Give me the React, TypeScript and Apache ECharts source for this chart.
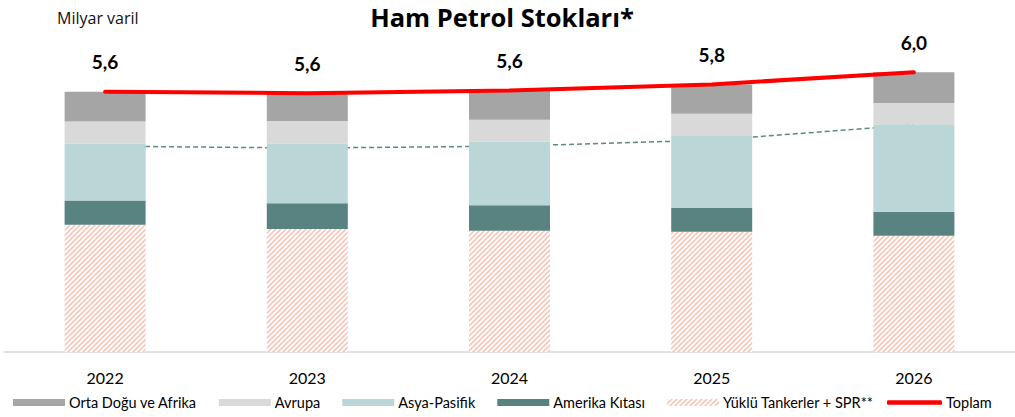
import React, { useEffect, useRef } from "react";
import * as echarts from "echarts";

const categories = ["2022", "2023", "2024", "2025", "2026"];
const tankerValues = [2.74, 2.65, 2.61, 2.59, 2.5];
const amerikaValues = [0.52, 0.55, 0.55, 0.51, 0.52];
const asyaValues = [1.23, 1.28, 1.37, 1.55, 1.88];
const avrupaValues = [0.47, 0.49, 0.47, 0.48, 0.46];
const ortaValues = [0.64, 0.6, 0.63, 0.63, 0.66];
const trendValues = [4.43, 4.39, 4.43, 4.56, 4.89];

const seriesNames = {
  orta: "Orta Doğu ve Afrika",
  avrupa: "Avrupa",
  asya: "Asya-Pasifik",
  amerika: "Amerika Kıtası",
  tanker: "Yüklü Tankerler + SPR**",
  toplam: "Toplam",
};

const FONT = "Lato";
const TITLE_FONT = "'Open Sans'";

function makeHatch(): HTMLCanvasElement {
  const s = 5;
  const c = document.createElement("canvas");
  c.width = s;
  c.height = s;
  const ctx = c.getContext("2d")!;
  ctx.fillStyle = "#ffffff";
  ctx.fillRect(0, 0, s, s);
  ctx.strokeStyle = "#f9c7b9";
  ctx.lineWidth = 1.6;
  ctx.beginPath();
  ctx.moveTo(-1, s + 1);
  ctx.lineTo(s + 1, -1);
  ctx.moveTo(-s / 2 - 1, s / 2 + 1);
  ctx.lineTo(s / 2 + 1, -s / 2 - 1);
  ctx.moveTo(s / 2 - 1, s * 1.5 + 1);
  ctx.lineTo(s * 1.5 + 1, s / 2 - 1);
  ctx.stroke();
  return c;
}

export default function App() {
  const ref = useRef<HTMLDivElement>(null);
  useEffect(() => {
    if (!ref.current) return;
    const chart = echarts.init(ref.current, undefined, { renderer: "svg" });
    const totals = categories.map(
      (_, i) =>
        tankerValues[i] + amerikaValues[i] + asyaValues[i] + avrupaValues[i] + ortaValues[i]
    );
    const hatch = makeHatch();
    const barCommon = {
      type: "bar" as const,
      stack: "total",
      barWidth: 81,
      z: 2,
    };
    const legendText = { fontSize: 14.5, color: "#000", fontFamily: FONT, padding: [0, 0, 0, -1] };
    chart.setOption({
      animation: false,
      textStyle: { fontFamily: FONT },
      graphic: [
        {
          type: "text",
          x: 502,
          y: 16.5,
          style: {
            text: "Ham Petrol Stokları*",
            font: `bold 25.5px ${TITLE_FONT}`,
            fill: "#000",
            textAlign: "center",
            textVerticalAlign: "middle",
          },
        },
        {
          type: "text",
          x: 57,
          y: 18,
          style: {
            text: "Milyar varil",
            font: `16px ${TITLE_FONT}`,
            fill: "#111",
            textAlign: "left",
            textVerticalAlign: "middle",
          },
        },
      ],
      grid: { left: 4, right: 0, top: 50, bottom: 65 },
      xAxis: {
        type: "category",
        data: categories,
        axisLine: { show: true, lineStyle: { color: "#d9d9d9", width: 1.5 } },
        axisTick: { show: false },
        axisLabel: { color: "#000", fontSize: 16, margin: 17, fontFamily: FONT },
      },
      yAxis: {
        type: "value",
        min: 0,
        max: 6.5,
        show: false,
        splitLine: { show: false },
      },
      legend: [
        {
          left: 8,
          top: 390,
          itemWidth: 52,
          itemHeight: 7,
          itemGap: 22,
          textStyle: legendText,
          data: [
            { name: seriesNames.orta, icon: "rect" },
            { name: seriesNames.avrupa, icon: "rect" },
            { name: seriesNames.asya, icon: "rect" },
            { name: seriesNames.amerika, icon: "rect" },
            { name: seriesNames.tanker, icon: "rect" },
          ],
        },
        {
          left: 882,
          top: 390,
          itemWidth: 55,
          itemHeight: 4.5,
          textStyle: legendText,
          data: [{ name: seriesNames.toplam, icon: "roundRect" }],
        },
      ],
      series: [
        {
          name: "trend",
          type: "line",
          data: trendValues,
          symbol: "none",
          z: 1,
          lineStyle: { color: "#5b8985", width: 1.5, type: [5, 3] },
          silent: true,
        },
        {
          ...barCommon,
          name: seriesNames.tanker,
          data: tankerValues,
          itemStyle: { color: { image: hatch, repeat: "repeat" } as any },
        },
        {
          ...barCommon,
          name: seriesNames.amerika,
          data: amerikaValues,
          itemStyle: { color: "#588380" },
        },
        {
          ...barCommon,
          name: seriesNames.asya,
          data: asyaValues,
          itemStyle: { color: "#bbd6d7" },
        },
        {
          ...barCommon,
          name: seriesNames.avrupa,
          data: avrupaValues,
          itemStyle: { color: "#d9d9d9" },
        },
        {
          ...barCommon,
          name: seriesNames.orta,
          data: ortaValues,
          itemStyle: { color: "#a5a5a5" },
        },
        {
          name: seriesNames.toplam,
          type: "line",
          data: totals,
          symbol: "circle",
          symbolSize: 1,
          showSymbol: true,
          z: 5,
          lineStyle: { color: "#ff0000", width: 4, cap: "round" },
          itemStyle: { color: "#ff0000" },
          label: {
            show: true,
            position: "top",
            distance: 20,
            fontSize: 19,
            fontWeight: "bold",
            color: "#000",
            fontFamily: FONT,
            formatter: (p: any) => p.value.toFixed(1).replace(".", ","),
          },
        },
      ],
    });
    return () => chart.dispose();
  }, []);
  return (
    <div
      ref={ref}
      style={{ position: "absolute", left: 0, top: 0, width: 1015, height: 417 }}
    />
  );
}
